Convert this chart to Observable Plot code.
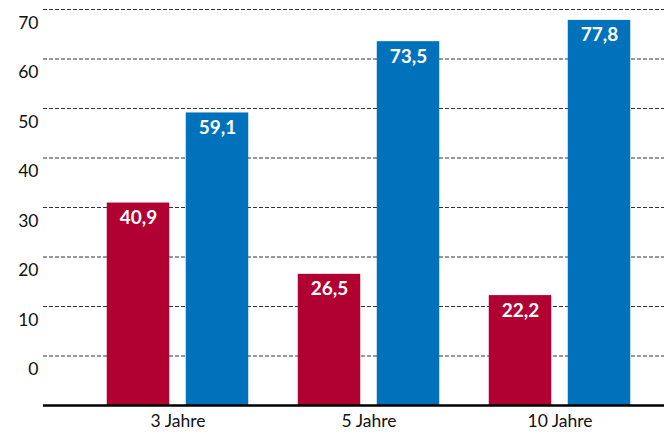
<!DOCTYPE html>
<html>
<head>
<meta charset="utf-8">
<script src="https://cdn.jsdelivr.net/npm/d3@7"></script>
<script src="https://cdn.jsdelivr.net/npm/@observablehq/plot@0.6"></script>
<style>
  html, body { margin: 0; padding: 0; background: #fff; }
  #chart { width: 664px; height: 435px; }
</style>
</head>
<body>
<div id="chart"></div>
<script>
const categories = ["3 Jahre", "5 Jahre", "10 Jahre"];
const redValues = [40.9, 26.5, 22.2];
const blueValues = [59.1, 73.5, 77.8];
const yTickLabels = [0, 10, 20, 30, 40, 50, 60, 70];
const gridValues = [10, 20, 30, 40, 50, 60, 70, 80];

const red = "#b10032";
const blue = "#0072bb";

const redData = categories.map((c, i) => ({cat: c, value: redValues[i]}));
const blueData = categories.map((c, i) => ({cat: c, value: blueValues[i]}));
const fmt = v => v.toFixed(1).replace(".", ",");

const outer = 24.75, inner = 103.75;

const chart = Plot.plot({
  width: 664,
  height: 435,
  marginLeft: 43,
  marginRight: 0,
  marginTop: 9,
  marginBottom: 30,
  style: {fontFamily: "Lato, 'DejaVu Sans', sans-serif", fontSize: "17px", color: "#111", background: "#fff"},
  x: {domain: categories, range: [81, 655.5], padding: 0, label: null},
  y: {domain: [0, 80], label: null},
  marks: [
    Plot.ruleY(gridValues, {stroke: "#333", strokeWidth: 1.2, strokeDasharray: "4,2"}),
    Plot.barY(redData, {x: "cat", y: "value", fill: red, insetLeft: outer, insetRight: inner}),
    Plot.barY(blueData, {x: "cat", y: "value", fill: blue, insetLeft: inner, insetRight: outer}),
    Plot.text(redData, {x: "cat", y: "value", text: d => fmt(d.value), dx: -(inner - outer) / 2, dy: 15, fill: "white", fontWeight: "bold", fontSize: 19}),
    Plot.text(blueData, {x: "cat", y: "value", text: d => fmt(d.value), dx: (inner - outer) / 2, dy: 15, fill: "white", fontWeight: "bold", fontSize: 19}),
    Plot.ruleY([0], {stroke: "#000", strokeWidth: 2.5}),
    Plot.axisY({ticks: yTickLabels, tickSize: 0, tickPadding: 5, dy: -36, label: null, fontSize: 17.5}),
    Plot.axisX({tickSize: 0, tickPadding: 9, label: null, fontSize: 17.5})
  ]
});
document.getElementById("chart").appendChild(chart);
</script>
</body>
</html>
